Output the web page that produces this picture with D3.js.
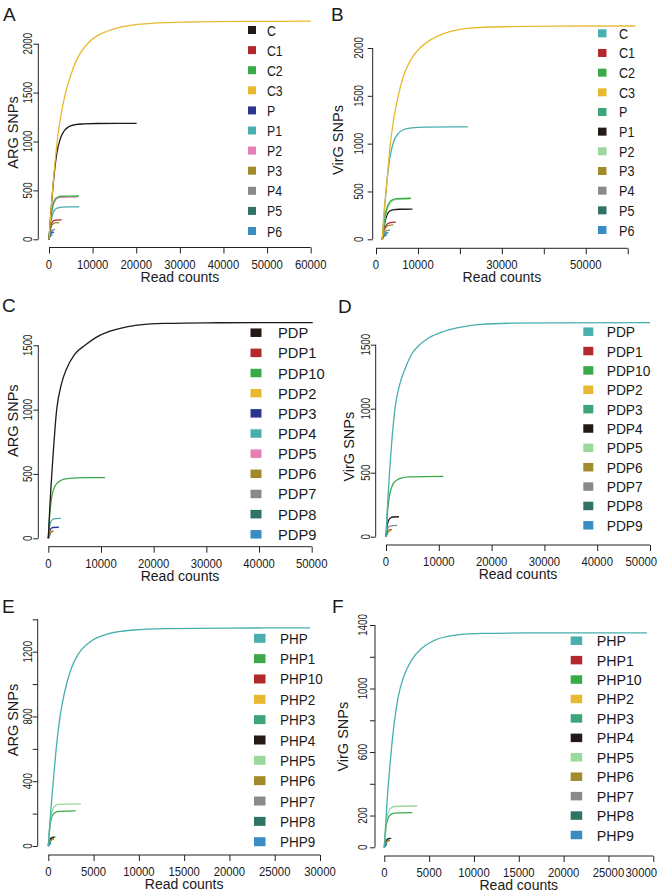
<!DOCTYPE html>
<html><head><meta charset="utf-8">
<script src="https://cdn.jsdelivr.net/npm/d3@7"></script>
<style>body{margin:0;background:#fff}svg{display:block}text{font-family:"Liberation Sans",Arial,sans-serif;fill:#1a1a1a}</style>
</head><body><svg id="c" width="661" height="895"></svg>
<script>
// ---------- DATA ----------
const labelsA = ["C","C1","C2","C3","P","P1","P2","P3","P4","P5","P6"];
const curvesA = [
  [[0,0],[500,310],[1000,580],[1800,880],[2600,1030],[3500,1110],[4500,1150],[6000,1172],[8000,1180],[11000,1184],[20100,1185]],
  [[0,0],[250,90],[600,160],[1000,188],[1500,196],[2900,198]],
  [[0,0],[400,220],[900,350],[1400,410],[2000,432],[3000,440],[4500,442],[6880,443]],
  [[0,0],[500,320],[1000,600],[2000,1050],[3000,1330],[3700,1480],[5000,1680],[6500,1850],[8800,2000],[11000,2080],[13500,2130],[16000,2165],[19000,2190],[24000,2210],[32000,2222],[45000,2228],[60000,2230]],
  [[0,0],[250,45],[600,65],[1100,70]],
  [[0,0],[400,170],[900,265],[1400,305],[2100,322],[3200,329],[4800,331],[6950,332]],
  [[0,0],[400,210],[900,335],[1400,395],[2000,420],[3000,428],[4500,431],[6500,432]],
  [[0,0],[250,80],[600,135],[1000,160],[1500,168],[2360,170]],
  [[0,0],[250,60],[600,90],[1000,98],[1400,100]],
  [[0,0],[250,30],[500,42],[800,45]],
  [[0,0],[250,55],[600,80],[1000,88]]
];
const labelsB = ["C","C1","C2","C3","P","P1","P2","P3","P4","P5","P6"];
const curvesB = [
  [[1500,0],[2000,300],[2600,600],[3300,850],[4200,1020],[5200,1100],[6500,1145],[8500,1165],[12000,1173],[21900,1176]],
  [[1500,0],[1900,90],[2500,150],[3200,172],[4700,179]],
  [[1500,0],[1900,170],[2500,310],[3200,385],[4000,415],[5000,425],[6500,428],[8350,429]],
  [[1500,0],[2000,330],[2400,500],[3300,950],[4200,1250],[5300,1500],[6500,1700],[8200,1870],[10500,2000],[13000,2085],[16500,2155],[22400,2207],[30000,2222],[42000,2228],[61800,2230]],
  [[1500,0],[1800,40],[2300,60],[2800,65]],
  [[1500,0],[2000,150],[2600,250],[3300,295],[4300,310],[5500,314],[8670,316]],
  [[1500,0],[1900,150],[2500,290],[3200,370],[4000,405],[5200,417],[8000,420]],
  [[1500,0],[1900,80],[2500,130],[3100,146],[4130,150]],
  [[1500,0],[1900,60],[2500,90],[3340,97]],
  [[1500,0],[1800,25],[2200,40],[2550,45]],
  [[1500,0],[1850,45],[2400,68],[2940,73]]
];
const labelsC = ["PDP","PDP1","PDP10","PDP2","PDP3","PDP4","PDP5","PDP6","PDP7","PDP8","PDP9"];
const curvesC = [
  [[0,0],[300,250],[800,580],[1590,1000],[2500,1200],[3500,1320],[5000,1430],[6960,1500],[9000,1560],[11700,1610],[14500,1640],[17400,1658],[22000,1670],[30000,1675],[50200,1676]],
  [[0,0],[200,30],[500,50],[900,55]],
  [[0,0],[300,200],[700,330],[1200,400],[2000,440],[3000,460],[4500,468],[7000,471],[10760,472]],
  [[0,0],[200,35],[500,55],[1100,60]],
  [[0,0],[200,50],[500,75],[900,84],[2000,86]],
  [[0,0],[200,80],[500,130],[900,148],[1400,153],[2350,155]],
  [[0,0],[150,20],[400,28]],
  [[0,0],[200,30],[500,45],[800,48]],
  [[0,0],[150,15],[350,22]],
  [[0,0],[150,25],[400,35]],
  [[0,0],[150,18],[350,25]]
];
const labelsD = ["PDP","PDP1","PDP10","PDP2","PDP3","PDP4","PDP5","PDP6","PDP7","PDP8","PDP9"];
const curvesD = [
  [[0,0],[300,250],[800,580],[1700,1000],[2600,1190],[3600,1310],[5000,1435],[6140,1490],[8000,1550],[11000,1605],[14500,1640],[18000,1658],[24000,1668],[32000,1671],[50000,1672]],
  [[0,0],[200,35],[500,52],[1100,56]],
  [[0,0],[300,200],[700,330],[1200,400],[2000,440],[3000,460],[4500,467],[7000,470],[10850,471]],
  [[0,0],[200,30],[500,45],[1000,50]],
  [[0,0],[150,20],[400,30]],
  [[0,0],[200,80],[500,128],[900,148],[1400,154],[2460,156]],
  [[0,0],[150,15],[350,22]],
  [[0,0],[200,28],[500,42],[800,45]],
  [[0,0],[200,50],[500,75],[900,85],[2100,88]],
  [[0,0],[150,25],[400,32]],
  [[0,0],[150,18],[350,24]]
];
const labelsE = ["PHP","PHP1","PHP10","PHP2","PHP3","PHP4","PHP5","PHP6","PHP7","PHP8","PHP9"];
const curvesE = [
  [[0,0],[250,200],[550,400],[850,590],[1250,780],[1800,950],[2500,1090],[3300,1185],[4600,1260],[6800,1313],[9400,1334],[13000,1343],[20000,1346],[28900,1347]],
  [[0,0],[200,130],[400,180],[700,205],[1100,214],[3020,217]],
  [[0,0],[150,25],[350,38],[600,42]],
  [[0,0],[150,20],[350,30]],
  [[0,0],[150,30],[400,50],[800,56]],
  [[0,0],[150,35],[350,50],[650,55]],
  [[0,0],[200,150],[400,210],[700,245],[1100,257],[3610,260]],
  [[0,0],[150,25],[400,40],[650,45]],
  [[0,0],[120,12],[300,18]],
  [[0,0],[120,15],[300,22]],
  [[0,0],[120,10],[300,15]]
];
const labelsF = ["PHP","PHP1","PHP10","PHP2","PHP3","PHP4","PHP5","PHP6","PHP7","PHP8","PHP9"];
const curvesF = [
  [[0,0],[300,280],[700,560],[1100,780],[1560,950],[2200,1080],[3060,1180],[4200,1255],[5470,1300],[8000,1336],[11000,1347],[16000,1350],[29300,1351]],
  [[0,0],[150,25],[350,38],[600,42]],
  [[0,0],[200,130],[400,180],[700,205],[1100,215],[3130,218]],
  [[0,0],[150,20],[350,30]],
  [[0,0],[150,30],[400,50],[800,56]],
  [[0,0],[150,35],[350,52],[700,58]],
  [[0,0],[200,150],[400,210],[700,245],[1100,257],[3690,260]],
  [[0,0],[150,25],[400,40],[650,45]],
  [[0,0],[120,12],[300,18]],
  [[0,0],[120,15],[300,22]],
  [[0,0],[120,10],[300,15]]
];
const xTicks60k = [0,10000,20000,30000,40000,50000,60000];
const xLabelsA = ["0","10000","20000","30000","40000","50000","60000"];
const xLabelsB = ["0","10000","","30000","","50000",""];
const yTicks2000 = [0,500,1000,1500,2000];
const yLabels2000 = ["0","500","1000","1500","2000"];
const xTicks50k = [0,10000,20000,30000,40000,50000];
const xLabels50k = ["0","10000","20000","30000","40000","50000"];
const yTicks1500 = [0,500,1000,1500];
const yLabels1500 = ["0","500","1000","1500"];
const xTicks30k = [0,5000,10000,15000,20000,25000,30000];
const xLabels30k = ["0","5000","10000","15000","20000","25000","30000"];
const yTicks1400 = [0,200,400,600,800,1000,1200,1400];
const yLabelsE = ["0","","400","","800","","1200",""];
const yLabelsF = ["0","200","","600","","1000","","1400"];

// ---------- STYLE ----------
const col = {black:"#231916",red:"#B3282D",green:"#3AAA48",yellow:"#E8B930",navy:"#2B3592",teal:"#48AEAE",
  pink:"#E67DB4",olive:"#A28B2C",gray:"#898A8C",dteal:"#2F7367",blue:"#3A8DC2",mgreen:"#3CA67A",lgreen:"#9BD89C"};
const colorsA = [col.black,col.red,col.green,col.yellow,col.navy,col.teal,col.pink,col.olive,col.gray,col.dteal,col.blue];
const colorsB = [col.teal,col.red,col.green,col.yellow,col.mgreen,col.black,col.lgreen,col.olive,col.gray,col.dteal,col.blue];
const colorsC = colorsA;
const colorsD = [col.teal,col.red,col.green,col.yellow,col.mgreen,col.black,col.lgreen,col.olive,col.gray,col.dteal,col.blue];
const colorsE = [col.teal,col.green,col.red,col.yellow,col.mgreen,col.black,col.lgreen,col.olive,col.gray,col.dteal,col.blue];
const colorsF = colorsD;

const svg = d3.select("#c");
function txt(g, x, y, s, size, opt={}) {
  return g.append("text")
    .attr("transform", `translate(${x},${y}) rotate(${opt.rot||0}) scale(${opt.sx||1},1)`)
    .attr("text-anchor", opt.anchor||"middle")
    .style("font-size", size+"px").text(s);
}

function panel(p) {
  const g = svg.append("g");
  const x = d3.scaleLinear().domain(p.xd).range(p.xr);
  const y = d3.scaleLinear().domain(p.yd).range(p.yr);
  const line = d3.line().x(d=>x(d[0])).y(d=>y(d[1])).curve(d3.curveMonotoneX);
  const order = p.order || d3.range(p.curves.length);
  order.forEach(i => {
    g.append("path").attr("d", line(p.curves[i])).attr("fill","none")
      .attr("stroke", p.colors[i]).attr("stroke-width",1.3);
  });
  // x axis
  const ax = g.append("g").attr("transform",`translate(0,${p.xAxisY})`)
    .call(d3.axisBottom(x).tickValues(p.xTicks).tickSize(6).tickFormat(""));
  ax.select(".domain").attr("d",`M${x(p.xTicks[0])},0H${x(p.xTicks[p.xTicks.length-1])}`);
  ax.selectAll("path,line").attr("stroke","#222").attr("stroke-width",1);
  const fs = 13, sxx = 0.87;
  p.xTicks.forEach((v,i)=>{
    const s = p.xLabels[i]; if(!s) return;
    const half = s.length*0.556*fs*sxx/2;
    const cx = Math.min(x(v), 657 - half);
    txt(g, cx, p.xAxisY+21, s, fs, {sx:sxx});
  });
  // y axis
  const ay = g.append("g").attr("transform",`translate(${p.yAxisX},0)`)
    .call(d3.axisLeft(y).tickValues(p.yTicks).tickSize(5).tickFormat(""));
  ay.select(".domain").attr("d",`M0,${y(p.yTicks[0])}V${y(p.yTicks[p.yTicks.length-1])}`);
  ay.selectAll("path,line").attr("stroke","#222").attr("stroke-width",1);
  p.yTicks.forEach((v,i)=>{ if(p.yLabels[i]) txt(g, p.yAxisX-p.yLabOff, y(v), p.yLabels[i], 12.5, {rot:-90, sx:0.78}); });
  // titles
  txt(g, (p.xr[0]+p.xr[1])/2, p.xAxisY+34, "Read counts", 14);
  txt(g, p.yTitleX, p.yTitleY, p.yTitle, 14.5, {rot:-90});
  txt(g, p.letterX, p.letterY, p.letter, 19, {anchor:"start"});
  // legend
  const ly = d3.scalePoint().domain(p.labels).range(p.legY);
  p.labels.forEach((lab,i)=>{
    g.append("rect").attr("x",p.swX).attr("y",ly(lab)-p.swH/2).attr("width",p.swW).attr("height",p.swH).attr("fill",p.colors[i]);
    txt(g, p.labX, ly(lab)+5.5, lab, 15, {anchor:"start", sx:p.legSx});
  });
}

panel({letter:"A",letterX:3,letterY:21,labels:labelsA,curves:curvesA,colors:colorsA,order:[4,5,6,2,1,7,8,9,10,0,3],
  xd:[0,60000],xr:[49,310.7],yd:[0,2000],yr:[239.3,43.7],xAxisY:247.5,yAxisX:38.3,
  xTicks:xTicks60k,xLabels:xLabelsA,yTicks:yTicks2000,yLabels:yLabels2000,yLabOff:6.6,
  yTitle:"ARG SNPs",yTitleX:18.3,yTitleY:132.5,legY:[30,231],swX:248,swW:8,swH:8,labX:267,legSx:0.82});
panel({letter:"B",letterX:331,letterY:21,labels:labelsB,curves:curvesB,colors:colorsB,order:[4,5,6,2,1,7,8,9,10,0,3],
  xd:[0,60000],xr:[376,627.7],yd:[0,2000],yr:[239.3,48],xAxisY:248.3,yAxisX:372.7,
  xTicks:xTicks60k,xLabels:xLabelsB,yTicks:yTicks2000,yLabels:yLabels2000,yLabOff:10,
  yTitle:"VirG SNPs",yTitleX:343.3,yTitleY:140,legY:[33.3,230],swX:598,swW:8.5,swH:8,labX:619,legSx:0.84});
panel({letter:"C",letterX:2,letterY:311.7,labels:labelsC,curves:curvesC,colors:colorsC,order:[1,3,4,5,6,7,8,9,10,2,0],
  xd:[0,50000],xr:[48.3,311.7],yd:[0,1500],yr:[538.3,345.3],xAxisY:546.7,yAxisX:38.3,
  xTicks:xTicks50k,xLabels:xLabels50k,yTicks:yTicks1500,yLabels:yLabels1500,yLabOff:6.6,
  yTitle:"ARG SNPs",yTitleX:18.3,yTitleY:420.7,legY:[332.7,534.3],swX:250.5,swW:11,swH:8.5,labX:278,legSx:0.98});
panel({letter:"D",letterX:338,letterY:313.3,labels:labelsD,curves:curvesD,colors:colorsD,order:[1,3,4,5,6,7,8,9,10,2,0],
  xd:[0,50000],xr:[386,650],yd:[0,1500],yr:[536.7,344.7],xAxisY:545,yAxisX:375.7,
  xTicks:xTicks50k,xLabels:xLabels50k,yTicks:yTicks1500,yLabels:yLabels1500,yLabOff:5.7,
  yTitle:"VirG SNPs",yTitleX:354,yTitleY:446.7,legY:[331.7,525.3],swX:583.3,swW:10,swH:8.5,labX:606.7,legSx:0.92});
panel({letter:"E",letterX:2,letterY:613,labels:labelsE,curves:curvesE,colors:colorsE,order:[2,3,4,5,7,8,9,10,1,6,0],
  xd:[0,30000],xr:[48.3,320],yd:[0,1200],yr:[846,651.7],xAxisY:855,yAxisX:37.7,
  xTicks:xTicks30k,xLabels:xLabels30k,yTicks:yTicks1400,yLabels:yLabelsE,yLabOff:6,
  yTitle:"ARG SNPs",yTitleX:18.3,yTitleY:720,legY:[638.3,841.7],swX:254,swW:11.5,swH:9,labX:280,legSx:0.9});
panel({letter:"F",letterX:332,letterY:613,labels:labelsF,curves:curvesF,colors:colorsF,order:[1,3,4,5,7,8,9,10,2,6,0],
  xd:[0,30000],xr:[384.3,653.3],yd:[0,1400],yr:[847.3,625],xAxisY:856,yAxisX:375,
  xTicks:xTicks30k,xLabels:xLabels30k,yTicks:yTicks1400,yLabels:yLabelsF,yLabOff:8.3,
  yTitle:"VirG SNPs",yTitleX:348.3,yTitleY:736.7,legY:[640.7,835],swX:570.7,swW:11.5,swH:8.5,labX:596.7,legSx:0.95});
</script></body></html>
